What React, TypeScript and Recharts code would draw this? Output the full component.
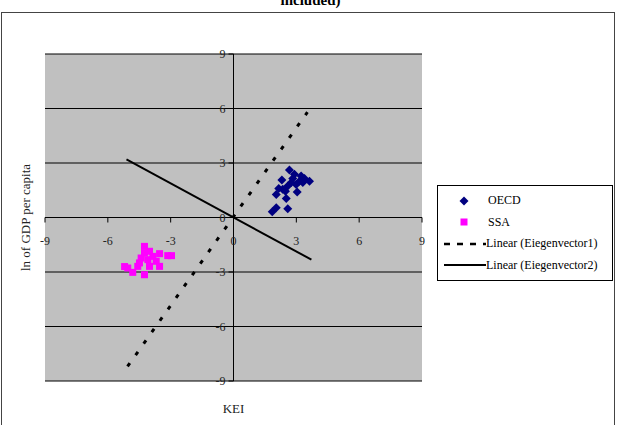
import React from 'react';
import {
  ComposedChart, Scatter, Line, XAxis, YAxis, CartesianGrid, ReferenceLine, Legend,
} from 'recharts';

// values
const oecdX = [2.67, 2.31, 2.91, 3.23, 3.15, 2.76, 3.63, 3.31, 2.16, 2.35, 2.59, 2.48, 3.04, 2.04, 2.52, 2.04, 1.85, 2.59, 2.83, 2.99, 3.39];
const oecdY = [2.61, 2.06, 2.38, 2.28, 2.0, 1.92, 2.0, 1.92, 1.6, 1.55, 1.73, 1.45, 1.4, 1.27, 1.05, 0.54, 0.31, 0.48, 2.14, 1.82, 2.14];

const ssaX = [-4.25, -4.01, -4.25, -3.85, -3.53, -3.14, -2.96, -4.41, -4.09, -3.69, -4.49, -3.53, -4.01, -5.05, -4.81, -4.25, -4.57, -5.2];
const ssaY = [-1.59, -1.86, -1.95, -2.14, -1.99, -2.1, -2.1, -2.23, -2.32, -2.41, -2.5, -2.69, -2.69, -2.78, -3.02, -3.15, -2.69, -2.7];

const ev1X = [-5.06, 3.53];
const ev1Y = [-8.2, 5.8];
const ev2X = [-5.11, 3.72];
const ev2Y = [3.2, -2.32];

const ticks = [-9, -6, -3, 0, 3, 6, 9];

const legendItems = ['OECD', 'SSA', 'Linear (Eiegenvector1)', 'Linear (Eiegenvector2)'];

const zip = (xs: number[], ys: number[]) => xs.map((x, i) => ({ x, y: ys[i] }));

const oecdData = zip(oecdX, oecdY);
const ssaData = zip(ssaX, ssaY);
const ev1Data = zip(ev1X, ev1Y);
const ev2Data = zip(ev2X, ev2Y);

const W = 621;
const H = 425;
const AXIS_W = 20;
const AXIS_H = 20;
// plot area: x 45..422, y 54..381
const M = { top: 54, right: 199, bottom: 44 - AXIS_H, left: 45 - AXIS_W };
const ZERO_X = 45 + (422 - 45) / 2;
const ZERO_Y = 54 + (381 - 54) / 2;
const FONT = '"Liberation Serif", "Times New Roman", serif';

const Diamond = (props: any) => {
  const { cx, cy } = props;
  const r = 4.5;
  return (
    <polygon
      points={`${cx},${cy - r} ${cx + r},${cy} ${cx},${cy + r} ${cx - r},${cy}`}
      fill="#000080"
    />
  );
};

const Square = (props: any) => {
  const { cx, cy } = props;
  return <rect x={cx - 3.5} y={cy - 3.5} width={7} height={7} fill="#FF00FF" />;
};

const XTick = (props: any) => {
  const { x, payload } = props;
  return (
    <g>
      <line x1={x} y1={ZERO_Y} x2={x} y2={ZERO_Y + 5} stroke="#000" />
      <text x={x} y={ZERO_Y + 23} textAnchor="middle" dominantBaseline="central"
        fontFamily={FONT} fontSize={12} fill="#222">
        {payload.value}
      </text>
    </g>
  );
};

const YTick = (props: any) => {
  const { y, payload } = props;
  return (
    <g>
      <line x1={ZERO_X - 5} y1={y} x2={ZERO_X} y2={y} stroke="#000" />
      <text x={ZERO_X - 8} y={y} textAnchor="end" dominantBaseline="central"
        fontFamily={FONT} fontSize={12} fill="#222">
        {payload.value}
      </text>
    </g>
  );
};

const renderLegend = () => (
  <div style={{
    border: '1px solid #000', background: '#fff', fontFamily: FONT, fontSize: 12,
    color: '#000', padding: '4px 0', boxSizing: 'border-box',
  }}>
    {legendItems.map((name, i) => (
      <div key={name} style={{ display: 'flex', alignItems: 'center', height: 21.5 }}>
        <svg width={48} height={12} style={{ flex: 'none' }}>
          {i === 0 && <polygon points="26,1.5 30.5,6 26,10.5 21.5,6" fill="#000080" />}
          {i === 1 && <rect x={22.5} y={2.5} width={7} height={7} fill="#FF00FF" />}
          {i === 2 && <line x1={6} y1={6} x2={48} y2={6} stroke="#000" strokeWidth={2.5} strokeDasharray="6 7" />}
          {i === 3 && <line x1={6} y1={6} x2={48} y2={6} stroke="#000" strokeWidth={2} />}
        </svg>
        <span style={{ marginLeft: i < 2 ? 2 : 0 }}>{name}</span>
      </div>
    ))}
  </div>
);

export default function App() {
  return (
    <div style={{ position: 'absolute', left: 0, top: 0, width: W, height: H, overflow: 'hidden', background: '#fff' }}>
      <div style={{
        position: 'absolute', left: 0, top: -8, width: W, textAlign: 'center',
        fontFamily: FONT, fontWeight: 'bold', fontSize: 15, color: '#000',
      }}>
        included)
      </div>
      <div style={{
        position: 'absolute', left: 1, top: 12, width: 614, height: 430,
        border: '1px solid #444', boxSizing: 'border-box',
      }} />
      <div style={{ position: 'absolute', left: 0, top: 0 }}>
        <ComposedChart width={W} height={H} margin={M}>
          <CartesianGrid vertical={false} horizontal stroke="#000" fill="#C0C0C0" />
          <XAxis
            type="number" dataKey="x" domain={[-9, 9]} ticks={ticks} height={AXIS_H}
            axisLine={false} tickLine={false} tick={<XTick />} interval={0}
          />
          <YAxis
            type="number" dataKey="y" domain={[-9, 9]} ticks={ticks} width={AXIS_W}
            axisLine={false} tickLine={false} tick={<YTick />} interval={0}
          />
          <ReferenceLine x={0} stroke="#000" />
          <ReferenceLine y={0} stroke="#000" />
          <Scatter name="OECD" data={oecdData} shape={<Diamond />} isAnimationActive={false} />
          <Scatter name="SSA" data={ssaData} shape={<Square />} isAnimationActive={false} />
          <Line name="Linear (Eiegenvector1)" data={ev1Data} dataKey="y" type="linear" dot={false}
            stroke="#000" strokeWidth={3} strokeDasharray="4 10" isAnimationActive={false} />
          <Line name="Linear (Eiegenvector2)" data={ev2Data} dataKey="y" type="linear" dot={false}
            stroke="#000" strokeWidth={2} isAnimationActive={false} />
          <Legend
            layout="horizontal" verticalAlign="middle" align="center"
            content={renderLegend}
            wrapperStyle={{ left: 437, top: 185, width: 176, height: 'auto' }}
          />
          <text x={25} y={ZERO_Y} textAnchor="middle" dominantBaseline="central"
            transform={`rotate(-90 25 ${ZERO_Y})`}
            fontFamily={FONT} fontSize={13} fill="#222">ln of GDP per capita</text>
          <text x={ZERO_X} y={408} textAnchor="middle" dominantBaseline="central"
            fontFamily={FONT} fontSize={13} fill="#222">KEI</text>
        </ComposedChart>
      </div>
    </div>
  );
}
